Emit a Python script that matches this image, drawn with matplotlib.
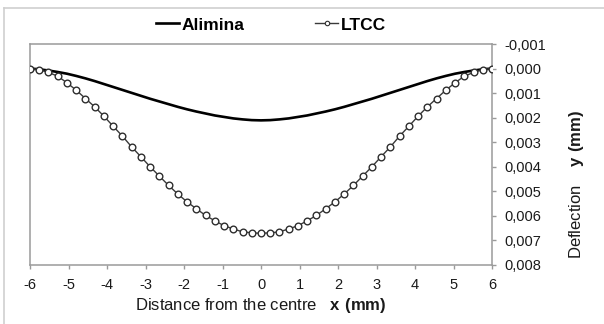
import matplotlib
matplotlib.use("Agg")
import matplotlib.pyplot as plt
from matplotlib.lines import Line2D

plt.rcParams["font.family"] = ["Liberation Sans", "DejaVu Sans"]
plt.rcParams["axes.unicode_minus"] = False
plt.rcParams["mathtext.fontset"] = "custom"
plt.rcParams["mathtext.rm"] = "Liberation Sans"
plt.rcParams["mathtext.bf"] = "Liberation Sans:bold"

# Positions along the plate (mm)
distance = [-6.00, -5.76, -5.52, -5.28, -5.04, -4.80, -4.56, -4.32, -4.08, -3.84,
            -3.60, -3.36, -3.12, -2.88, -2.64, -2.40, -2.16, -1.92, -1.68, -1.44,
            -1.20, -0.96, -0.72, -0.48, -0.24, 0.00, 0.24, 0.48, 0.72, 0.96,
            1.20, 1.44, 1.68, 1.92, 2.16, 2.40, 2.64, 2.88, 3.12, 3.36,
            3.60, 3.84, 4.08, 4.32, 4.56, 4.80, 5.04, 5.28, 5.52, 5.76, 6.00]

# Deflection of the alumina substrate (mm)
alimina = [0.00000, 0.00003, 0.00008, 0.00014, 0.00021, 0.00030, 0.00040, 0.00051,
           0.00063, 0.00075, 0.00087, 0.00099, 0.00111, 0.00123, 0.00134, 0.00145,
           0.00156, 0.00166, 0.00175, 0.00183, 0.00191, 0.00197, 0.00203, 0.00207,
           0.00210, 0.00211, 0.00210, 0.00207, 0.00203, 0.00197, 0.00191, 0.00183,
           0.00175, 0.00166, 0.00156, 0.00145, 0.00134, 0.00123, 0.00111, 0.00099,
           0.00087, 0.00075, 0.00063, 0.00051, 0.00040, 0.00030, 0.00021, 0.00014,
           0.00008, 0.00003, 0.00000]

# Deflection of the LTCC substrate (mm)
ltcc = [0.00000, 0.00004, 0.00016, 0.00031, 0.00058, 0.00088, 0.00122, 0.00156,
        0.00194, 0.00235, 0.00275, 0.00319, 0.00359, 0.00400, 0.00438, 0.00476,
        0.00511, 0.00543, 0.00571, 0.00598, 0.00620, 0.00640, 0.00653, 0.00665,
        0.00669, 0.00671, 0.00669, 0.00665, 0.00653, 0.00640, 0.00620, 0.00598,
        0.00571, 0.00543, 0.00511, 0.00476, 0.00438, 0.00400, 0.00359, 0.00319,
        0.00275, 0.00235, 0.00194, 0.00156, 0.00122, 0.00088, 0.00058, 0.00031,
        0.00016, 0.00004, 0.00000]

x_ticks = [-6, -5, -4, -3, -2, -1, 0, 1, 2, 3, 4, 5, 6]
y_ticks = [-0.001, 0.000, 0.001, 0.002, 0.003, 0.004, 0.005, 0.006, 0.007, 0.008]

W, H = 604, 324
fig = plt.figure(figsize=(W / 100, H / 100), dpi=100)
ax = fig.add_axes([30 / W, 1 - 265 / H, 462 / W, 221 / H])

ax.plot(distance, alimina, color="black", lw=1.9, zorder=3, label="Alimina")
ax.plot(distance, ltcc, color="#3a3a3a", lw=1.0, marker="o", ms=4.8,
        mfc="white", mec="#2e2e2e", mew=1.0, zorder=4, label="LTCC")

ax.set_xlim(-6, 6)
ax.set_ylim(0.008, -0.001)
ax.set_xticks(x_ticks)
ax.set_xticklabels([str(t) for t in x_ticks])
ax.set_yticks(y_ticks)
ax.set_yticklabels([f"{t:.3f}".replace(".", ",") for t in y_ticks])

ax.yaxis.tick_right()
ax.yaxis.set_label_position("right")
spine_c = "#9a9a9a"
for s in ax.spines.values():
    s.set_color(spine_c)
    s.set_linewidth(1.1)
ax.tick_params(axis="both", direction="out", length=3, width=1.0, color=spine_c,
               labelsize=10.5, labelcolor="#1a1a1a")
ax.tick_params(axis="x", pad=6.5)
ax.tick_params(axis="y", pad=6)

ax.set_xlabel(r"Distance from the centre   $\mathbf{x\ (mm)}$", fontsize=12,
              color="#1a1a1a", labelpad=2.5)
fig.text(577 / W, 1 - 185 / H, r"Deflection    $\mathbf{y\ (mm)}$", rotation=90,
         ha="center", va="center", fontsize=12, color="#1a1a1a")

handles = [Line2D([], [], color="black", lw=1.9),
           Line2D([], [], color="#3a3a3a", lw=1.0, marker="o", ms=3.2,
                  mfc="white", mec="#2e2e2e", mew=0.8)]
fig.legend(handles, ["Alimina", "LTCC"], loc="center",
           bbox_to_anchor=(271 / W, 1 - 25 / H), ncol=2, frameon=False,
           prop={"weight": "bold", "size": 12.5}, handlelength=1.3,
           handletextpad=0.15, columnspacing=4.1)

# Thin outer frame
frame_c = "#cfcfcf"
fig.add_artist(Line2D([4 / W, 1.0], [1 - 8 / H, 1 - 8 / H], transform=fig.transFigure,
                      color=frame_c, lw=1.2))
fig.add_artist(Line2D([4 / W, 4 / W], [0.0, 1 - 8 / H], transform=fig.transFigure,
                      color=frame_c, lw=1.2))

fig.savefig("out.png", dpi=100)
